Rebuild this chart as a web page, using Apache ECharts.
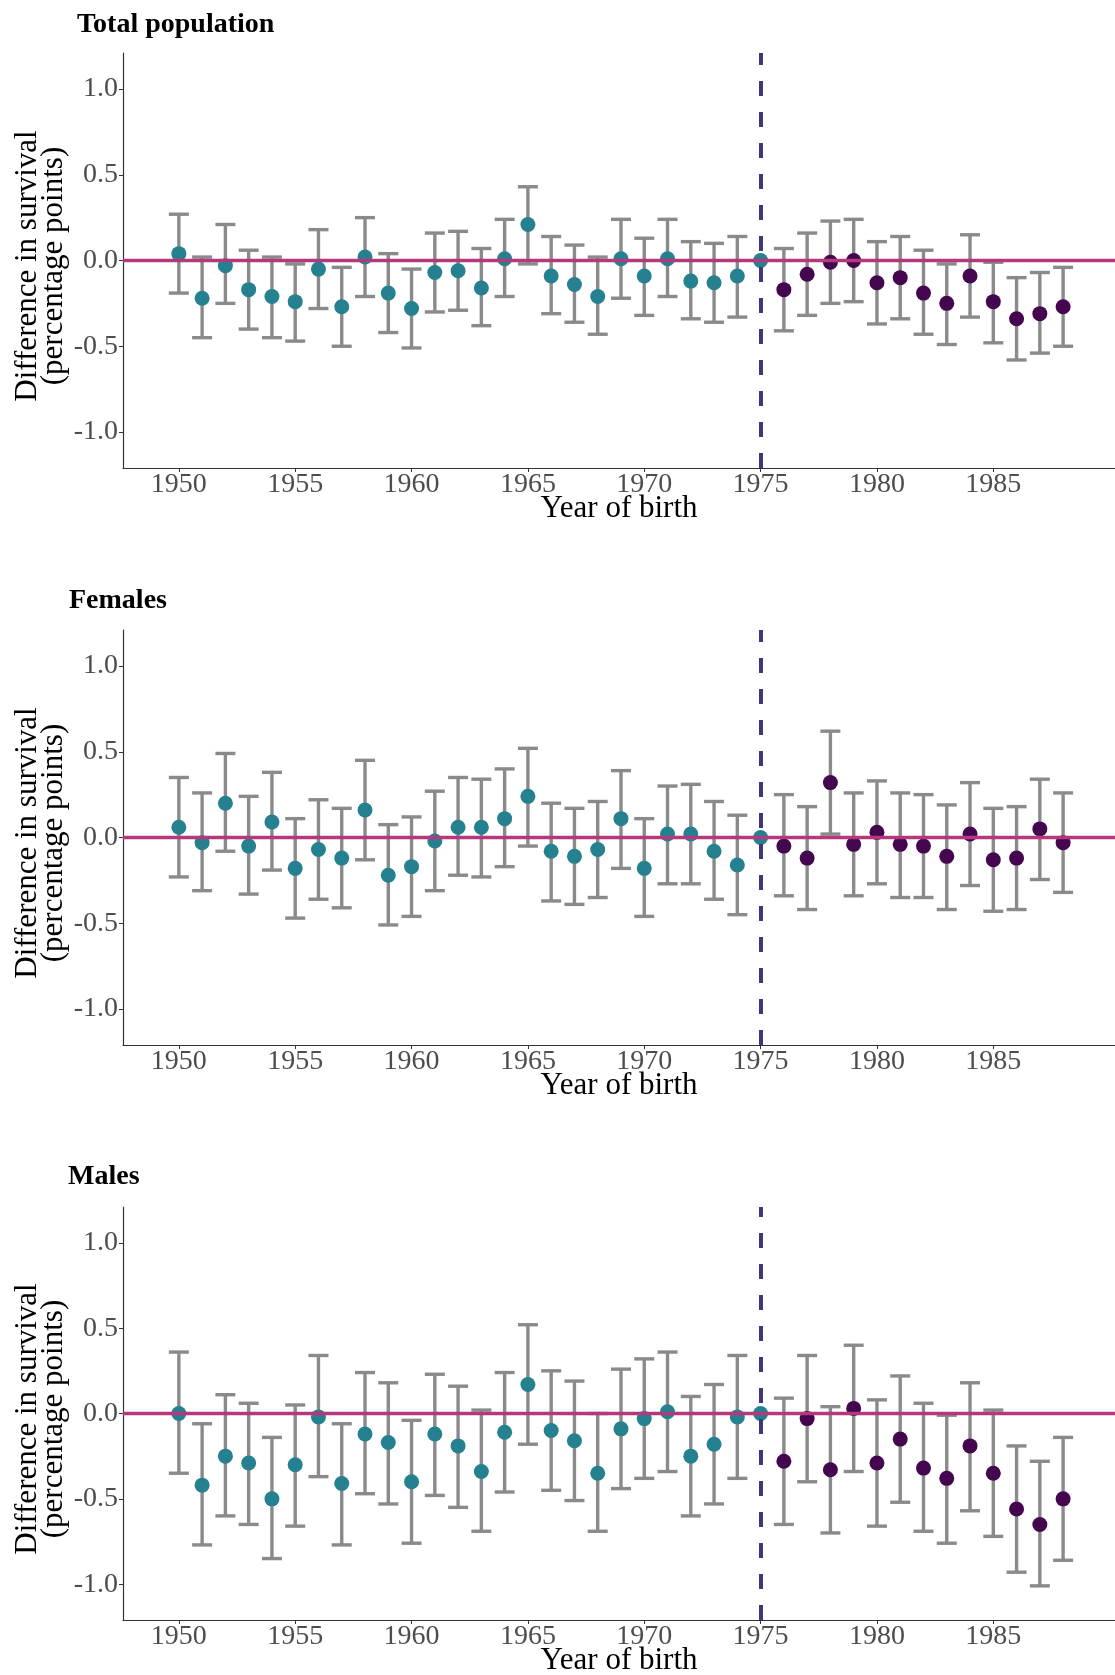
<!DOCTYPE html>
<html>
<head>
<meta charset="utf-8">
<script src="https://cdn.jsdelivr.net/npm/echarts@6/dist/echarts.min.js"></script>
<style>
html,body{margin:0;padding:0;background:#fff;}
#chart{width:1115px;height:1675px;}
</style>
</head>
<body>
<div id="chart"></div>
<script>
// ---------------- data ----------------
const years = [1950,1951,1952,1953,1954,1955,1956,1957,1958,1959,1960,1961,1962,1963,1964,1965,1966,1967,1968,1969,1970,1971,1972,1973,1974,1975,1976,1977,1978,1979,1980,1981,1982,1983,1984,1985,1986,1987,1988];
const cutoffYear = 1975;
const xTicks = [1950,1955,1960,1965,1970,1975,1980,1985];
const yTicks = [-1.0,-0.5,0.0,0.5,1.0];
const panelTitles = ["Total population","Females","Males"];

const totalEst = [0.04,-0.22,-0.03,-0.17,-0.21,-0.24,-0.05,-0.27,0.02,-0.19,-0.28,-0.07,-0.06,-0.16,0.01,0.21,-0.09,-0.14,-0.21,0.01,-0.09,0.01,-0.12,-0.13,-0.09,0.00,-0.17,-0.08,-0.01,0.00,-0.13,-0.10,-0.19,-0.25,-0.09,-0.24,-0.34,-0.31,-0.27];
const totalHi  = [0.27,0.02,0.21,0.06,0.02,-0.02,0.18,-0.04,0.25,0.04,-0.05,0.16,0.17,0.07,0.24,0.43,0.14,0.09,0.02,0.24,0.13,0.24,0.11,0.10,0.14,null,0.07,0.16,0.23,0.24,0.11,0.14,0.06,-0.02,0.15,-0.01,-0.10,-0.07,-0.04];
const totalLo  = [-0.19,-0.45,-0.25,-0.40,-0.45,-0.47,-0.28,-0.50,-0.21,-0.42,-0.51,-0.30,-0.29,-0.38,-0.21,-0.02,-0.31,-0.36,-0.43,-0.22,-0.32,-0.21,-0.34,-0.36,-0.33,null,-0.41,-0.32,-0.25,-0.24,-0.37,-0.34,-0.43,-0.49,-0.33,-0.48,-0.58,-0.54,-0.50];

const femEst = [0.06,-0.03,0.20,-0.05,0.09,-0.18,-0.07,-0.12,0.16,-0.22,-0.17,-0.02,0.06,0.06,0.11,0.24,-0.08,-0.11,-0.07,0.11,-0.18,0.02,0.02,-0.08,-0.16,0.00,-0.05,-0.12,0.32,-0.04,0.03,-0.04,-0.05,-0.11,0.02,-0.13,-0.12,0.05,-0.03];
const femHi  = [0.35,0.26,0.49,0.24,0.38,0.11,0.22,0.17,0.45,0.075,0.12,0.27,0.35,0.34,0.40,0.52,0.20,0.17,0.21,0.39,0.11,0.30,0.31,0.21,0.13,null,0.25,0.18,0.62,0.26,0.33,0.26,0.25,0.19,0.32,0.17,0.18,0.34,0.26];
const femLo  = [-0.23,-0.31,-0.08,-0.33,-0.19,-0.47,-0.36,-0.41,-0.13,-0.51,-0.46,-0.31,-0.22,-0.23,-0.17,-0.05,-0.37,-0.39,-0.35,-0.18,-0.46,-0.27,-0.27,-0.36,-0.45,null,-0.34,-0.42,0.02,-0.34,-0.27,-0.35,-0.35,-0.42,-0.28,-0.43,-0.42,-0.245,-0.32];

const maleEst = [0.00,-0.42,-0.25,-0.29,-0.50,-0.30,-0.02,-0.41,-0.12,-0.17,-0.40,-0.12,-0.19,-0.34,-0.11,0.17,-0.10,-0.16,-0.35,-0.09,-0.03,0.01,-0.25,-0.18,-0.02,0.00,-0.28,-0.03,-0.33,0.03,-0.29,-0.15,-0.32,-0.38,-0.19,-0.35,-0.56,-0.65,-0.50];
const maleHi  = [0.36,-0.06,0.11,0.06,-0.14,0.05,0.34,-0.06,0.24,0.18,-0.04,0.23,0.16,0.02,0.24,0.52,0.25,0.19,0.00,0.26,0.32,0.36,0.10,0.17,0.34,null,0.09,0.34,0.04,0.40,0.08,0.22,0.06,-0.01,0.18,0.02,-0.19,-0.28,-0.14];
const maleLo  = [-0.35,-0.77,-0.60,-0.65,-0.85,-0.66,-0.37,-0.77,-0.47,-0.53,-0.76,-0.48,-0.55,-0.69,-0.46,-0.18,-0.45,-0.51,-0.69,-0.44,-0.38,-0.34,-0.60,-0.53,-0.38,null,-0.65,-0.40,-0.70,-0.34,-0.66,-0.52,-0.69,-0.76,-0.57,-0.72,-0.93,-1.01,-0.86];

// ---------------- styling ----------------
const FONT = '"Liberation Serif","Times New Roman",serif';
const TEAL = '#25818f';
const PURPLE = '#44064f';
const ZERO = '#b5387c';
const VLINE = '#3f377c';
const BAR = '#8a8a8a';

const panels = [
  {title: panelTitles[0], est: totalEst, lo: totalLo, hi: totalHi, top: 53, height: 415, tTop: 11, tLeft: 77},
  {title: panelTitles[1], est: femEst, lo: femLo, hi: femHi, top: 630, height: 415, tTop: 587, tLeft: 69},
  {title: panelTitles[2], est: maleEst, lo: maleLo, hi: maleHi, top: 1207, height: 413, tTop: 1163, tLeft: 68}
];

const chart = echarts.init(document.getElementById('chart'), null, {renderer: 'canvas'});

const option = {
  animation: false,
  backgroundColor: '#fff',
  title: [], grid: [], xAxis: [], yAxis: [], series: []
};

panels.forEach((p, i) => {
  option.title.push({
    text: p.title, left: p.tLeft, top: p.tTop, padding: 0,
    textStyle: {fontFamily: FONT, fontSize: 28, fontWeight: 'bold', color: '#000'}
  });
  option.grid.push({left: 123, top: p.top, width: 992, height: p.height, containLabel: false,
    outerBoundsMode: 'none'});
  option.xAxis.push({
    type: 'value', gridIndex: i, min: 1947.6, max: 1990.23,
    name: 'Year of birth', nameLocation: 'middle', nameGap: 25, nameMoveOverlap: false,
    nameTextStyle: {fontFamily: FONT, fontSize: 31, color: '#000', verticalAlign: 'top'},
    axisLine: {show: true, onZero: false, lineStyle: {color: '#333', width: 1.2}},
    axisTick: {show: true, length: 4, lineStyle: {color: '#333'}, customValues: xTicks},
    axisLabel: {fontFamily: FONT, fontSize: 28, color: '#4d4d4d', margin: 3, customValues: xTicks,
      formatter: v => String(v)},
    splitLine: {show: false}
  });
  option.yAxis.push({
    type: 'value', gridIndex: i, min: -1.21, max: 1.21,
    name: 'Difference in survival\n(percentage points)', nameLocation: 'middle', nameGap: 56, nameRotate: 90,
    nameMoveOverlap: false,
    nameTextStyle: {fontFamily: FONT, fontSize: 31, color: '#000', lineHeight: 26, align: 'center',
      padding: [0, 11, 0, 0]},
    axisLine: {show: true, onZero: false, lineStyle: {color: '#333', width: 1.2}},
    axisTick: {show: true, length: 4, lineStyle: {color: '#333'}, customValues: yTicks},
    axisLabel: {fontFamily: FONT, fontSize: 28, color: '#4d4d4d', margin: 5, customValues: yTicks,
      formatter: v => Number(v).toFixed(1)},
    splitLine: {show: false}
  });

  // error bars
  const barData = years.map((y, k) => [y, p.lo[k], p.hi[k]]).filter(d => d[1] != null && d[2] != null);
  option.series.push({
    type: 'custom', xAxisIndex: i, yAxisIndex: i, z: 1, silent: true,
    data: barData,
    renderItem: function (params, api) {
      const x = api.value(0);
      const lo = api.coord([x, api.value(1)]);
      const hi = api.coord([x, api.value(2)]);
      const hw = 10;
      const st = {stroke: BAR, lineWidth: 3.4, fill: null};
      return {type: 'group', children: [
        {type: 'line', shape: {x1: lo[0], y1: lo[1], x2: hi[0], y2: hi[1]}, style: st},
        {type: 'line', shape: {x1: hi[0] - hw, y1: hi[1], x2: hi[0] + hw, y2: hi[1]}, style: st},
        {type: 'line', shape: {x1: lo[0] - hw, y1: lo[1], x2: lo[0] + hw, y2: lo[1]}, style: st}
      ]};
    }
  });

  // reference lines
  option.series.push({
    type: 'scatter', xAxisIndex: i, yAxisIndex: i, z: 2, data: [], silent: true,
    markLine: {
      silent: true, symbol: 'none', animation: false,
      label: {show: false},
      data: [
        {yAxis: 0, lineStyle: {color: ZERO, width: 3.4, type: 'solid'}},
        {xAxis: cutoffYear, lineStyle: {color: VLINE, width: 4, type: [15, 16]}}
      ]
    }
  });

  // points
  option.series.push({
    type: 'scatter', xAxisIndex: i, yAxisIndex: i, z: 3, symbolSize: 15, silent: true,
    itemStyle: {color: TEAL, opacity: 1},
    data: years.map((y, k) => [y, p.est[k]]).filter(d => d[0] <= cutoffYear)
  });
  option.series.push({
    type: 'scatter', xAxisIndex: i, yAxisIndex: i, z: 3, symbolSize: 15, silent: true,
    itemStyle: {color: PURPLE, opacity: 1},
    data: years.map((y, k) => [y, p.est[k]]).filter(d => d[0] > cutoffYear)
  });
});

chart.setOption(option);
</script>
</body>
</html>
